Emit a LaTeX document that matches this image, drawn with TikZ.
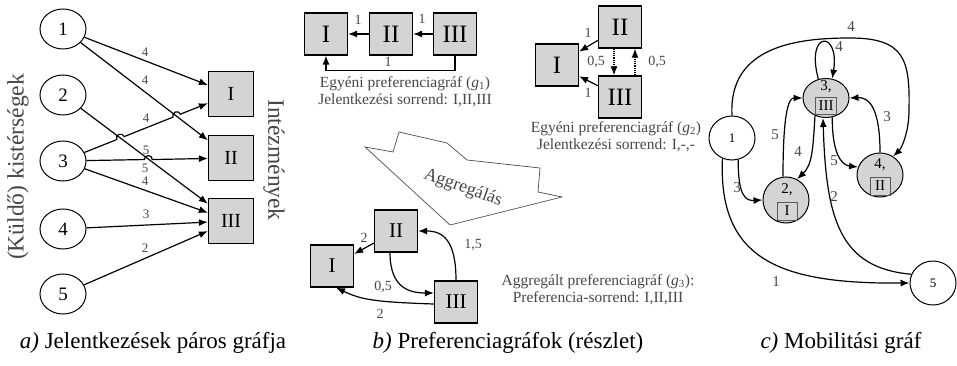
\documentclass[tikz,border=0pt]{standalone}
\usepackage{fontspec}
\setmainfont{Liberation Serif}
\usetikzlibrary{shapes.geometric,arrows.meta,calc}
\definecolor{boxgray}{RGB}{212,212,212}
\definecolor{labgray}{RGB}{70,70,70}
\newcommand\fsz[1]{\fontsize{#1}{#1}\selectfont}
\begin{document}
\begin{tikzpicture}[x=1pt,y=1pt,
  arr/.style={-{Latex[length=9pt,width=7pt]}, line width=1.2pt},
  circa/.style={ellipse, draw, line width=1pt, minimum width=46pt, minimum height=40pt, inner sep=0pt, font=\fsz{19}},
  sqa/.style={rectangle, draw, fill=boxgray, line width=1.2pt, minimum width=45pt, minimum height=45pt, inner sep=0pt, font=\fsz{20}},
  sqb/.style={rectangle, draw, fill=boxgray, line width=1.2pt, minimum width=43pt, minimum height=42pt, inner sep=0pt, font=\fsz{25}},
  sqc/.style={rectangle, draw, fill=boxgray, line width=1.2pt, minimum width=43pt, minimum height=42pt, inner sep=0pt, font=\fsz{21}},
  wl/.style={inner sep=0pt, text=labgray, font=\fsz{13}},
  wlb/.style={inner sep=0pt, text=labgray, font=\fsz{14}},
  wlc/.style={inner sep=0pt, text=labgray, font=\fsz{15}},
  gcap/.style={inner sep=0pt, align=center, text=labgray, font=\fontsize{15.5}{17}\selectfont},
  bigcap/.style={inner sep=0pt, font=\fsz{23}},
  sidel/.style={inner sep=0pt, text=labgray, font=\fsz{23.5}},
  circc/.style={ellipse, draw, line width=1pt, inner sep=0pt, font=\fsz{13}},
  circg/.style={ellipse, draw, fill=boxgray, line width=1pt, inner sep=0pt},
  ibox/.style={rectangle, draw=gray!70!black, line width=0.6pt, inner sep=0pt, font=\fsz{15}},
  itop/.style={inner sep=0pt, font=\fsz{15}}
]
\useasboundingbox (0,0) rectangle (957,-366);

% ---------------- panel a ----------------
\node[circa] (a1) at (63,-29) {1};
\node[circa] (a2) at (63,-95) {2};
\node[circa] (a3) at (63,-161) {3};
\node[circa] (a4) at (63,-229) {4};
\node[circa] (a5) at (63,-294) {5};
\node[sqa] (aI) at (231,-94) {I};
\node[sqa] (aII) at (231,-158) {II};
\node[sqa] (aIII) at (231,-221) {III};

\draw[arr] (a1) -- (aI);
\draw[arr] (a1) -- (aII);
\draw[arr] (a2) -- (aIII);
\draw[arr] (a3) -- ($(a3)!0.320!(aI)$) arc[start angle=201.75, end angle=21.75, radius=4pt]
  -- ($(a3)!0.655!(aI)$) arc[start angle=201.75, end angle=21.75, radius=4pt] -- (aI);
\draw[arr] (a3) -- ($(a3)!0.484!(aII)$) arc[start angle=180, end angle=0, radius=4pt] -- (aII);
\draw[arr] (a3) -- (aIII);
\draw[arr] (a4) -- (aIII);
\draw[arr] (a5) -- (aIII);

\node[wl] (wa1) at (145,-52) {4};
\node[wl] (wa2) at (145,-80) {4};
\node[wl] (wa3) at (146,-118) {4};
\node[wl] (wa4) at (146,-150) {5};
\node[wl] (wa5) at (145,-168) {5};
\node[wl] (wa6) at (145,-181) {4};
\node[wl] (wa7) at (146,-214) {3};
\node[wl] (wa8) at (145,-248) {2};

\node[sidel, rotate=90] (ka) at (18,-167) {(Küldő) kistérségek};
\node[sidel, rotate=-90] (kb) at (274,-160) {Intézmények};

% ---------------- panel b : g1 ----------------
\node[sqb] (bI) at (326,-34) {I};
\node[sqb] (bII) at (391,-34) {II};
\node[sqb] (bIII) at (455,-34) {III};
\draw[arr] (bII) -- (bI);
\draw[arr] (bIII) -- (bII);
\draw[arr] (bIII.south) -- ++(0,-15) -| (bI.south);
\node[wlb] (wb1) at (358,-20) {1};
\node[wlb] (wb2) at (422,-19) {1};
\node[wlb] (wb3) at (388,-62) {1};
\node[gcap] (cg1) at (405,-92) {Egyéni preferenciagráf (\textit{g}\textsubscript{1})\\Jelentkezési sorrend: I,II,III};

% ---------------- panel b : g2 ----------------
\node[sqb] (cI) at (557,-65) {I};
\node[sqb] (cII) at (620,-27) {II};
\node[sqb] (cIII) at (620,-97) {III};
\draw[arr] (cII) -- (cI);
\draw[arr] (cIII) -- (cI);
\draw[arr, densely dotted] ([xshift=-6pt]cII.south) -- ([xshift=-6pt]cIII.north);
\draw[arr, densely dotted] ([xshift=15pt]cIII.north) -- ([xshift=15pt]cII.south);
\node[wlb] (wc1) at (588,-33) {1};
\node[wlb] (wc2) at (588,-93) {1};
\node[wlb] (wc3) at (596,-62) {0,5};
\node[wlb] (wc4) at (657,-62) {0,5};
\node[gcap] (cg2) at (616,-137) {Egyéni preferenciagráf (\textit{g}\textsubscript{2})\\Jelentkezési sorrend: I,-,-};

% ---------------- aggregation shape ----------------
\draw[line width=0.7pt, draw=gray!60!black] (365,-147) -- (393,-152) -- (399,-132) -- (447,-143) -- (467,-160)
  -- (540,-168) -- (538,-192) -- (562,-197) -- (450,-225) -- cycle;
\node[inner sep=0pt, rotate=-20, text=labgray, font=\fsz{18}] (agg) at (463,-188) {Aggregálás};

% ---------------- panel b : g3 ----------------
\node[sqc] (dI) at (332,-266) {I};
\node[sqc] (dII) at (396,-231) {II};
\node[sqc] (dIII) at (456,-302) {III};
\draw[arr] (dII) -- (dI);
\draw[arr] ([xshift=-6pt]dII.south) .. controls +(0,-35) and +(-25,0) .. ([yshift=9pt]dIII.west);
\draw[arr] (dIII.north) .. controls +(0,40) and +(25,0) .. (dII.east);
\draw[arr] ([yshift=-2pt]dIII.west) .. controls +(-60,2) and +(25,-12) .. ([xshift=4pt]dI.south);
\node[wlb] (wd1) at (364,-238) {2};
\node[wlb] (wd2) at (383,-287) {0,5};
\node[wlb] (wd3) at (473,-245) {1,5};
\node[wlb] (wd4) at (380,-314) {2};
\node[gcap] (cg3) at (598,-290) {Aggregált preferenciagráf (\textit{g}\textsubscript{3}):\\Preferencia-sorrend: I,II,III};

% ---------------- panel c ----------------
\node[circc, minimum width=46pt, minimum height=44pt] (e1) at (732,-138) {1};
\node[circg, minimum width=46pt, minimum height=39pt] (e3) at (826,-98) {};
\node[circg, minimum width=46pt, minimum height=46pt] (e2) at (786,-200) {};
\node[circg, minimum width=46pt, minimum height=44pt] (e4) at (880,-175) {};
\node[circc, minimum width=46pt, minimum height=44pt] (e5) at (933,-283) {5};
\node[itop] (e3t) at (826,-87) {3,};
\node[ibox, minimum width=21pt, minimum height=17pt] (e3b) at (826,-106) {III};
\node[itop] (e2t) at (787,-190) {2,};
\node[ibox, minimum width=20pt, minimum height=18pt] (e2b) at (787,-211) {I};
\node[itop] (e4t) at (880,-165) {4,};
\node[ibox, minimum width=20pt, minimum height=18pt] (e4b) at (880,-186) {II};

\draw[arr] (e1.north) .. controls (728,-45) and (800,-38) .. (850,-38)
  .. controls (905,-38) and (910,-60) .. (909,-110)
  .. controls (909,-135) and (900,-150) .. (e4.55);
\draw[arr] (e3.112) .. controls (805,-30) and (840,-30) .. (e3.72);
\draw[arr] ([xshift=-3pt]e2.north) .. controls (783,-105) and (790,-98) .. (e3.west);
\draw[arr] (e3.238) .. controls (813,-150) and (812,-165) .. (e2.62);
\draw[arr] (e3.288) .. controls (832,-150) and (840,-165) .. (e4.160);
\draw[arr] (e4.north) .. controls (880,-110) and (870,-97) .. (e3.east);
\draw[arr] (e5.158) .. controls (840,-268) and (826,-220) .. ([xshift=-3pt]e3.south);
\draw[arr] (e1.286) .. controls (738,-195) and (745,-201) .. (e2.west);
\draw[arr] (e1.245) .. controls (718,-260) and (780,-284) .. (e5.west);

\node[wlc] (we1) at (851,-27) {4};
\node[wlc] (we2) at (839,-47) {4};
\node[wlc] (we3) at (775,-135) {5};
\node[wlc] (we4) at (798,-152) {4};
\node[wlc] (we5) at (834,-161) {5};
\node[wlc] (we6) at (887,-117) {3};
\node[wlc] (we7) at (834,-197) {2};
\node[wlc] (we8) at (737,-188) {3};
\node[wlc] (we9) at (776,-282) {1};

% ---------------- captions ----------------
\node[bigcap] (capa) at (153,-343) {\textit{a)} Jelentkezések páros gráfja};
\node[bigcap] (capb) at (508,-343) {\textit{b)} Preferenciagráfok (részlet)};
\node[bigcap] (capc) at (841,-343) {\textit{c)} Mobilitási gráf};
\end{tikzpicture}
\end{document}
